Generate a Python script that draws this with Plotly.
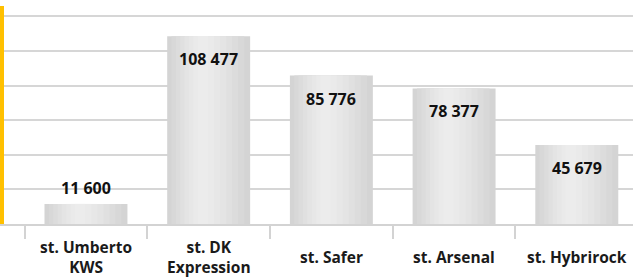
import plotly.graph_objects as go

categories = ["st. Umberto<br>KWS", "st. DK<br>Expression", "st. Safer", "st. Arsenal", "st. Hybrirock"]
values = [11600, 108477, 85776, 78377, 45679]

fig = go.Figure()

# gradient simulation via overlaid bars
w = 0.676
c = -0.08 * w
N = 8
shades = [212, 216, 220, 224, 228, 231, 234, 236]
for i in range(N):
    t = i / N
    left = -w / 2 + t * (c + w / 2)
    right = w / 2 - t * (w / 2 - c)
    g = shades[i]
    fig.add_trace(go.Bar(
        x=categories, y=values, width=right - left, offset=left,
        marker=dict(color=f"rgb({g},{g},{g})", line=dict(width=0)),
        hoverinfo="skip", showlegend=False,
    ))

for cat, v in zip(categories, values):
    inside = v > 30000
    fig.add_annotation(
        x=cat, y=v, text=f"<b>{v:,}</b>".replace(",", " "),
        showarrow=False, yanchor="middle",
        yshift=-23 if inside else 16,
        font=dict(family="Open Sans", size=16, color="#111111"),
    )

# category labels, vertically centred below the axis
for cat in categories:
    fig.add_annotation(
        x=cat, y=0, text="<b>" + cat.replace("<br>", "</b><br><b>") + "</b>",
        showarrow=False, yanchor="middle", yshift=-33,
        font=dict(family="Open Sans", size=15.5, color="#1a1a1a"),
    )

fig.update_layout(
    width=633, height=278,
    margin=dict(l=4, r=0, t=6, b=54, autoexpand=False),
    barmode="overlay",
    plot_bgcolor="white", paper_bgcolor="white",
    xaxis=dict(
        range=[-0.668, 4.458], showgrid=False, automargin=False,
        showticklabels=False,
        showline=True, linecolor="#d3d3d3", linewidth=1.5,
        ticks="outside", tickson="boundaries", ticklen=13,
        tickcolor="#d3d3d3", tickwidth=1.5,
    ),
    yaxis=dict(
        range=[0, 126000], dtick=20000, showticklabels=False, automargin=False,
        showgrid=True, gridcolor="#d6d6d6", gridwidth=1.5,
        zeroline=False, showline=True, linecolor="#FFC000", linewidth=4,
    ),
)
fig.write_html("out.html", config={"displayModeBar": False},
               post_script="document.body.style.margin='0';")
